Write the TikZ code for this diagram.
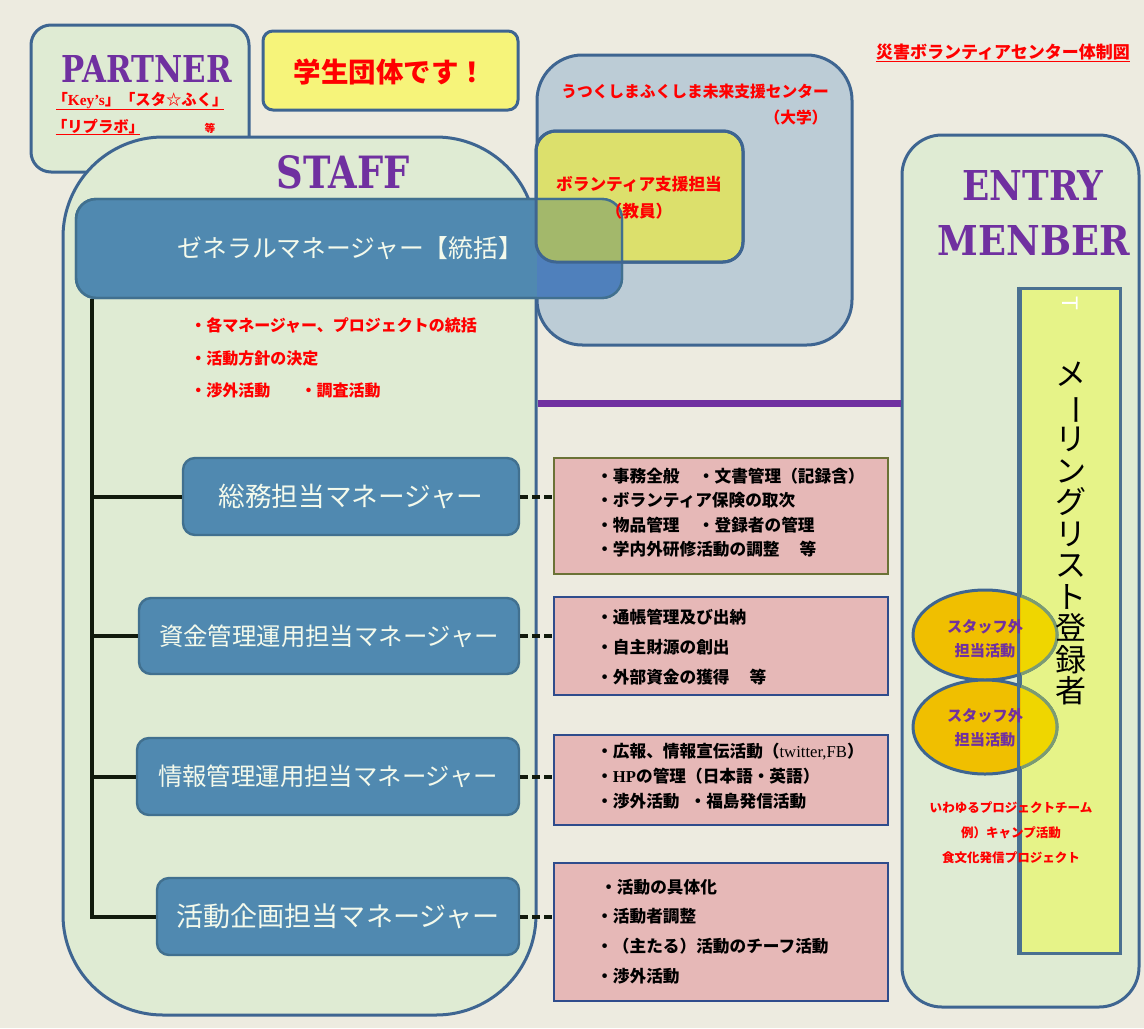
\documentclass[tikz,border=0pt]{standalone}
\usepackage{fontspec}
\usepackage{graphicx}
\setmainfont{Noto Sans CJK JP}
\newfontfamily\lserif{Liberation Serif}
\newfontfamily\lsans{Liberation Sans}
\newfontfamily\stencilf{DejaVu Serif}
\usetikzlibrary{shapes.geometric,calc}
\definecolor{bgC}{HTML}{EDEBE0}
\definecolor{lgreen}{HTML}{DFEBD3}
\definecolor{bblue}{HTML}{3E6591}
\definecolor{mgrC}{HTML}{5089B0}
\definecolor{mgrB}{HTML}{41708F}
\definecolor{univC}{HTML}{BCCCD6}
\definecolor{volC}{HTML}{DCE06C}
\definecolor{studC}{HTML}{F6F47A}
\definecolor{mailC}{HTML}{E6F388}
\definecolor{mailB}{HTML}{4A7090}
\definecolor{pinkC}{HTML}{E6B8B7}
\definecolor{pinkBo}{HTML}{6B7236}
\definecolor{pinkB}{HTML}{2F4C8C}
\definecolor{goldC}{HTML}{F0BF00}
\definecolor{goldY}{HTML}{EFD600}
\definecolor{elGreen}{HTML}{7B9B72}
\definecolor{purp}{HTML}{7030A0}
\definecolor{gmUniv}{HTML}{4F80BC}
\definecolor{gmVol}{HTML}{A3B86B}
\definecolor{redC}{HTML}{FF0000}
\definecolor{trunkC}{HTML}{111A0C}
\definecolor{txtW}{HTML}{F4FAEC}
\begin{document}
\begin{tikzpicture}[x=0.75pt,y=-0.75pt,
  panel/.style={draw=bblue, line width=2.25pt, fill=lgreen, inner sep=0pt},
  mgrbox/.style={draw=mgrB, line width=1.8pt, fill=mgrC, rounded corners=9pt, inner sep=0pt, text=txtW},
  pinkbox/.style={draw=pinkB, line width=1pt, fill=pinkC, inner sep=0pt, minimum width=334*0.75pt},
  pinktext/.style={anchor=west, align=left, inner sep=0pt, text=black},
  trunk/.style={draw=trunkC, line width=3pt},
  dashline/.style={draw=trunkC, line width=3pt, dash pattern=on 6pt off 3pt},
  bigword/.style={text=purp, inner sep=0pt},
  gold/.style={draw=bblue, line width=2.25pt, fill=goldC, ellipse, inner sep=0pt}
]
\useasboundingbox (0,0) rectangle (1144,1028);
\fill[bgC] (0,0) rectangle (1144,1028);

% partner
\node[panel, rounded corners=15pt, minimum width=218*0.75pt, minimum height=147*0.75pt] (partner) at (140,98.5) {};
\node[bigword] (partnerT) at (147,69) {\resizebox{127.5pt}{20.25pt}{\stencilf\bfseries PARTNER}};
\node[text=redC, font={\bfseries\fontsize{11.5}{12}\selectfont}, inner sep=0pt] (pk) at (140,101) {「{\lserif\bfseries Key’s}」「スタ☆ふく」};
\draw[redC, line width=1pt] ($(pk.south west)+(4,0)$) -- ($(pk.south east)+(-4,0)$);
\node[text=redC, font={\bfseries\fontsize{11.5}{12}\selectfont}, inner sep=0pt] (pr) at (98,127) {「リプラボ」};
\draw[redC, line width=1pt] ($(pr.south west)+(4,0)$) -- ($(pr.south east)+(-4,0)$);
\node[text=redC, font={\bfseries\fontsize{8}{9}\selectfont}, inner sep=0pt] (pto) at (210,128) {等};

% student
\node[draw=bblue, line width=2.25pt, fill=studC, rounded corners=7.5pt, minimum width=255*0.75pt, minimum height=79*0.75pt, inner sep=0pt] (stud) at (390.5,70.5) {};
\node[text=redC, font={\bfseries\fontsize{20.6}{22}\selectfont}] (studT) at (390,72) {学生団体です！};

% title
\node[text=redC, font={\bfseries\fontsize{12.75}{14}\selectfont}, inner sep=0pt] (title) at (1003,52) {災害ボランティアセンター体制図};
\draw[redC, line width=1.3pt] ($(title.south west)+(0,1)$) -- ($(title.south east)+(0,1)$);

% staff
\node[panel, rounded corners=75pt, minimum width=473*0.75pt, minimum height=878*0.75pt] (staff) at (299.5,576) {};
\node[bigword] (staffT) at (343,172) {\resizebox{99.75pt}{24.75pt}{\stencilf\bfseries STAFF}};

% university and volunteer
\node[draw=bblue, line width=2.25pt, fill=univC, rounded corners=34pt, minimum width=315*0.75pt, minimum height=290*0.75pt, inner sep=0pt] (univ) at (694.5,200) {};
\node[text=redC, font={\bfseries\fontsize{11.8}{13}\selectfont}] (ut1) at (695,92) {うつくしまふくしま未来支援センター};
\node[text=redC, font={\bfseries\fontsize{11.8}{13}\selectfont}] (ut2) at (796,118) {（大学）};
\node[draw=bblue, line width=2.25pt, fill=volC, rounded corners=15pt, minimum width=207*0.75pt, minimum height=131*0.75pt, inner sep=0pt] (vol) at (639.5,196.5) {};

% general manager
\node[mgrbox, rounded corners=15pt, minimum width=546*0.75pt, minimum height=99*0.75pt, font={\fontsize{18.6}{20}\selectfont}] (gm) at (349,248.5) {\hspace*{2pt}ゼネラルマネージャー【統括】};
\begin{scope}
  \clip[rounded corners=15pt] (76,199) rectangle (622,298);
  \fill[gmUniv, rounded corners=34pt] (537,55) rectangle (852,345);
  \fill[gmVol, rounded corners=15pt] (536,131) rectangle (743,262);
\end{scope}
\node[draw=mgrB, line width=1.8pt, rounded corners=15pt, minimum width=546*0.75pt, minimum height=99*0.75pt, inner sep=0pt] at (gm.center) {};
\node[draw=bblue, line width=2.25pt, rounded corners=15pt, minimum width=207*0.75pt, minimum height=131*0.75pt, inner sep=0pt] at (vol.center) {};
\node[text=redC, align=center, font={\bfseries\fontsize{12.5}{20}\selectfont}] (volT) at (639,198) {ボランティア支援担当\\（教員）};

\node[pinktext, text=redC, font={\bfseries\fontsize{12}{24.4}\selectfont}] (gmlist) at (190,358) {・各マネージャー、プロジェクトの統括\\・活動方針の決定\\・渉外活動\hspace{1.9em}・調査活動};

% entry
\node[panel, rounded corners=30pt, minimum width=237*0.75pt, minimum height=872*0.75pt] (entry) at (1020.5,571) {};
\node[bigword] (entryT) at (1033,185) {\resizebox{105.75pt}{22.5pt}{\stencilf\bfseries ENTRY}};
\node[bigword] (menT) at (1034,240) {\resizebox{144pt}{22.5pt}{\stencilf\bfseries MENBER}};
\node[draw=mailB, line width=2.25pt, fill=mailC, minimum width=100*0.75pt, minimum height=665*0.75pt, inner sep=0pt] (mail) at (1070,620.5) {};
\node[text=white, rotate=-90, inner sep=0pt, font={\lsans\fontsize{17}{17}\selectfont}] (tmark) at (1070,303) {T};

% ellipses
\node[gold, minimum width=144*0.75pt, minimum height=90*0.75pt] (e1) at (985,635) {};
\node[gold, minimum width=144*0.75pt, minimum height=94*0.75pt] (e2) at (985,727) {};
\begin{scope}
  \clip (1021,0) rectangle (1144,1028);
  \fill[goldY] (985,635) ellipse [x radius=72, y radius=45];
  \draw[elGreen, line width=2.25pt] (985,635) ellipse [x radius=72, y radius=45];
  \fill[goldY] (985,727) ellipse [x radius=72, y radius=47];
  \draw[elGreen, line width=2.25pt] (985,727) ellipse [x radius=72, y radius=47];
\end{scope}
\draw[mailB, line width=2.25pt] (mail.north west) -- (mail.south west);
\node[text=purp, align=center, font={\bfseries\fontsize{11.4}{18}\selectfont}] (e1T) at (985,639) {スタッフ外\\担当活動};
\node[text=purp, align=center, font={\bfseries\fontsize{11.4}{18}\selectfont}] (e2T) at (985,728) {スタッフ外\\担当活動};

\node[text=black, align=center, inner sep=0pt, font={\fontsize{23.25}{23.6}\selectfont}] (mailT) at (1071,533.5) {メ\\\rotatebox[origin=c]{-90}{ー}\\リ\\ン\\グ\\リ\\ス\\ト\\登\\録\\者};

\node[text=redC, align=center, font={\bfseries\fontsize{9.4}{18.75}\selectfont}] (projT) at (1011,833) {いわゆるプロジェクトチーム\\例）キャンプ活動\\食文化発信プロジェクト};

% purple line
\coordinate (pl) at (0,403.5);
\draw[purp, line width=5.25pt] (staff.east |- pl) -- (entry.west |- pl);

% managers
\node[mgrbox, minimum width=336*0.75pt, minimum height=77*0.75pt, font={\fontsize{20}{22}\selectfont}] (m1) at (351,496.5) {総務担当マネージャー};
\node[mgrbox, minimum width=380*0.75pt, minimum height=76*0.75pt, font={\fontsize{18.3}{20}\selectfont}] (m2) at (329,636) {資金管理運用担当マネージャー};
\node[mgrbox, minimum width=382*0.75pt, minimum height=77*0.75pt, font={\fontsize{18.3}{20}\selectfont}] (m3) at (328,776.5) {情報管理運用担当マネージャー};
\node[mgrbox, minimum width=362*0.75pt, minimum height=77*0.75pt, font={\fontsize{20.3}{22}\selectfont}] (m4) at (338,916.5) {活動企画担当マネージャー};

\coordinate (tt) at ($(gm.south west)+(17,0)$);
\draw[trunk] (tt) |- (m4.west);
\draw[trunk] (tt |- m1.west) -- (m1.west);
\draw[trunk] (tt |- m2.west) -- (m2.west);
\draw[trunk] (tt |- m3.west) -- (m3.west);

% pink boxes
\node[pinkbox, draw=pinkBo, minimum height=116*0.75pt] (p1) at (721,516) {};
\node[pinkbox, minimum height=98*0.75pt] (p2) at (721,646) {};
\node[pinkbox, minimum height=90*0.75pt] (p3) at (721,780) {};
\node[pinkbox, minimum height=138*0.75pt] (p4) at (721,932) {};

\draw[dashline] (m1.east) -- (m1.east -| p1.west);
\draw[dashline] (m2.east) -- (m2.east -| p2.west);
\draw[dashline] (m3.east) -- (m3.east -| p3.west);
\draw[dashline] (m4.east) -- (m4.east -| p4.west);

\node[pinktext, font={\bfseries\fontsize{12.5}{18.4}\selectfont}] (t1) at (596,512.5) {・事務全般\hspace{1.1em}・文書管理（記録含）\\・ボランティア保険の取次\\・物品管理\hspace{1.1em}・登録者の管理\\・学内外研修活動の調整\hspace{1.2em}等};
\node[pinktext, font={\bfseries\fontsize{12.5}{22.5}\selectfont}] (t2) at (596,647) {・通帳管理及び出納\\・自主財源の創出\\・外部資金の獲得\hspace{1.2em}等};
\node[pinktext, font={\bfseries\fontsize{12.5}{18.75}\selectfont}] (t3) at (596,776) {・広報、情報宣伝活動（{\lserif\mdseries twitter,FB}）\\・{\lserif HP}の管理（日本語・英語）\\・渉外活動\hspace{0.6em}・福島発信活動};
\node[pinktext, font={\bfseries\fontsize{12.5}{22.3}\selectfont}] (t4) at (596,931.5) {\hspace*{3pt}・活動の具体化\\・活動者調整\\・（主たる）活動のチーフ活動\\・渉外活動};
\end{tikzpicture}
\end{document}
